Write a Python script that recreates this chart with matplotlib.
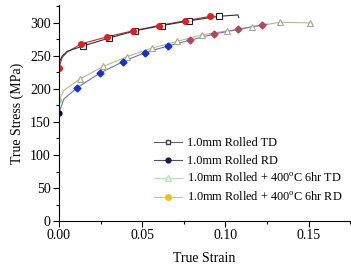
import matplotlib
matplotlib.use("Agg")
import matplotlib.pyplot as plt
from matplotlib.ticker import MultipleLocator, FormatStrFormatter

plt.rcParams['font.family'] = ['Liberation Serif', 'DejaVu Serif']
plt.rcParams['mathtext.fontset'] = 'custom'
plt.rcParams['mathtext.rm'] = 'Liberation Serif'

# Rolled TD (black line, open squares)
td_strain = [0, 0.002, 0.005, 0.0144, 0.030, 0.0456, 0.062, 0.078, 0.096, 0.1075, 0.108]
td_stress = [240, 250, 257, 265, 277, 288, 296, 303, 310, 312, 308]
td_marks = [3, 4, 5, 6, 7, 8]

# Rolled RD (red line, red circles)
rd_strain = [0, 0.002, 0.005, 0.0132, 0.029, 0.0445, 0.060, 0.0756, 0.091, 0.093]
rd_stress = [232, 248, 256, 268, 279, 288, 296, 303, 310, 311]
rd_marks = [0, 3, 4, 5, 6, 7, 8]

# 400C 6hr RD (blue line, diamonds)
hrd_strain = [0, 0.003, 0.011, 0.0246, 0.0382, 0.0516, 0.0654, 0.079, 0.093, 0.1075, 0.122, 0.125]
hrd_stress = [164, 185, 202, 224, 241, 255, 265, 274, 283, 290, 297, 298]
hrd_blue = [2, 3, 4, 5, 6]
hrd_mauve = [7, 8, 9, 10]

# 400C 6hr TD (olive line, open triangles)
htd_strain = [0, 0.003, 0.0126, 0.0265, 0.041, 0.056, 0.071, 0.086, 0.101, 0.116, 0.133, 0.1505, 0.152]
htd_stress = [183, 198, 215, 234, 249, 262, 272, 282, 288, 294, 301, 300, 299]
htd_marks = [2, 3, 4, 5, 6, 7, 8, 9, 10, 11]

legend_labels = ["1.0mm Rolled TD", "1.0mm Rolled RD",
                 "1.0mm Rolled + 400$^{\\mathrm{o}}$C 6hr TD",
                 "1.0mm Rolled + 400$^{\\mathrm{o}}$C 6hr RD"]

fig = plt.figure(figsize=(3.51, 2.66), dpi=100)
ax = fig.add_axes([0.168, 0.169, 0.83, 0.812])

# curves
ax.plot(htd_strain, htd_stress, color='#b8b890', lw=0.8)
ax.plot(hrd_strain, hrd_stress, color='#7070c8', lw=0.8)
ax.plot(rd_strain, rd_stress, color='#b03030', lw=0.8)
ax.plot(td_strain, td_stress, color='#303030', lw=0.8)

# markers
ax.plot([htd_strain[i] for i in htd_marks], [htd_stress[i] for i in htd_marks], ls='none',
        marker='^', ms=5, mfc='white', mec='#a8a890', mew=0.8)
ax.plot([hrd_strain[i] for i in hrd_blue], [hrd_stress[i] for i in hrd_blue], ls='none',
        marker='D', ms=3.5, color='#1530d0')
ax.plot([hrd_strain[i] for i in hrd_mauve], [hrd_stress[i] for i in hrd_mauve], ls='none',
        marker='D', ms=3.5, color='#b04858')
ax.plot([hrd_strain[0]], [hrd_stress[0]], ls='none', marker='o', ms=3.5, color='#101030')
ax.plot([htd_strain[0]], [htd_stress[0]], ls='none', marker='o', ms=3, color='#90e090')
ax.plot([td_strain[i] for i in td_marks], [td_stress[i] for i in td_marks], ls='none',
        marker='s', ms=4.5, mfc='white', mec='#202020', mew=0.8)
ax.plot([rd_strain[i] for i in rd_marks], [rd_stress[i] for i in rd_marks], ls='none',
        marker='o', ms=4, color='#e02020')

# legend proxies
h1, = ax.plot([], [], color='#606060', lw=0.8, marker='s', ms=3.5, mfc='white', mec='#404040')
h2, = ax.plot([], [], color='#505070', lw=0.8, marker='o', ms=3.5, mfc='#1a1a50', mec='#1a1a50')
h3, = ax.plot([], [], color='#b8e0b0', lw=0.8, marker='^', ms=4, mfc='white', mec='#b8e0b0')
h4, = ax.plot([], [], color='#e8c840', lw=0.8, marker='o', ms=4, mfc='#f0c020', mec='#f0c020')
ax.legend([h1, h2, h3, h4], legend_labels, loc='upper left', bbox_to_anchor=(0.31, 0.41),
          frameon=False, fontsize=8.8, handlelength=2.3, handletextpad=0.4,
          labelspacing=0.45, borderaxespad=0)

ax.set_xlim(0, 0.175)
ax.set_ylim(0, 327)
ax.xaxis.set_major_locator(MultipleLocator(0.05))
ax.xaxis.set_minor_locator(MultipleLocator(0.025))
ax.yaxis.set_major_locator(MultipleLocator(50))
ax.yaxis.set_minor_locator(MultipleLocator(25))
ax.xaxis.set_major_formatter(FormatStrFormatter('%.2f'))
ax.spines['top'].set_visible(False)
ax.spines['right'].set_visible(False)
ax.tick_params(which='major', direction='out', length=4, width=0.8, labelsize=10, pad=2)
ax.tick_params(which='minor', direction='out', length=2, width=0.8)
ax.set_xlabel('True Strain', fontsize=10, labelpad=7)
ax.set_ylabel('True Stress (MPa)', fontsize=10, labelpad=4)

fig.savefig('out.png', dpi=100)
